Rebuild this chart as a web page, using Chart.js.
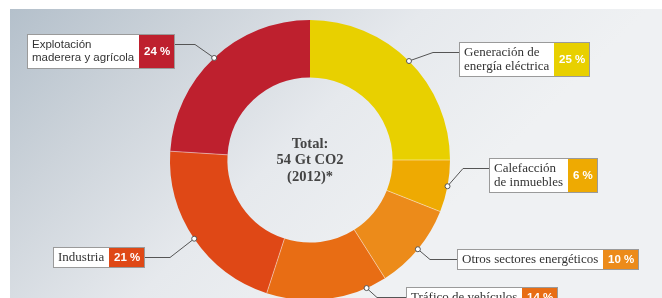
<!DOCTYPE html>
<html>
<head>
<meta charset="utf-8">
<script src="https://cdn.jsdelivr.net/npm/chart.js@4"></script>
<style>
  html, body { margin: 0; padding: 0; background: #fff; }
  #wrap { width: 662px; height: 298px; overflow: hidden; position: relative; }
  canvas { display: block; }
</style>
</head>
<body>
<div id="wrap"><canvas id="co2Chart" width="662" height="320"></canvas></div>
<script>
// Data
const categories = ['Generación de energía eléctrica', 'Calefacción de inmuebles', 'Otros sectores energéticos',
                    'Tráfico de vehículos', 'Industria', 'Explotación maderera y agrícola'];
const shares = [25, 6, 10, 14, 21, 24];
const labelLines = [['Generación de', 'energía eléctrica'], ['Calefacción', 'de inmuebles'], ['Otros sectores energéticos'],
                    ['Tráfico de vehículos'], ['Industria'], ['Explotación', 'maderera y agrícola']];
const totalText = ['Total:', '54 Gt CO2', '(2012)*'];

const sliceColors = ['#e8d000', '#eeaa02', '#ec8b1a', '#e86d14', '#df4816', '#be202e'];

// callout boxes: layout only
const SERIF = '"Liberation Serif", "DejaVu Serif", serif';
const SANS = '"Liberation Sans", Arial, sans-serif';
const callouts = [
    { x: 459, y: 42, side: 'right', elbow: 26, at: 0.5, font: SERIF },
    { x: 489, y: 158, side: 'right', elbow: 26, at: 0.5, font: SERIF },
    { x: 457, y: 249, side: 'right', elbow: 27, at: 0.5, font: SERIF },
    { x: 406, y: 287, side: 'right', elbow: 29, at: 0.17, font: SERIF },
    { x: 53, y: 247, side: 'left', elbow: 25, at: 0.5, font: SERIF },
    { x: 27, y: 34, side: 'left', elbow: 20, at: 0.5, font: SANS }
];

const backgroundPanel = {
    id: 'backgroundPanel',
    beforeDraw(chart) {
        const ctx = chart.ctx;
        ctx.save();
        ctx.fillStyle = '#ffffff';
        ctx.fillRect(0, 0, chart.width, chart.height);
        const g = ctx.createLinearGradient(10, 9, 330, 329);
        g.addColorStop(0, '#b4c0cb');
        g.addColorStop(0.3, '#ccd3da');
        g.addColorStop(0.65, '#e6e9ed');
        g.addColorStop(1, '#eff1f3');
        ctx.fillStyle = g;
        ctx.fillRect(10, 9, chart.width - 10, chart.height - 9);
        ctx.restore();
    }
};

const separators = {
    id: 'separators',
    afterDatasetsDraw(chart) {
        const ctx = chart.ctx;
        const arcs = chart.getDatasetMeta(0).data;
        ctx.save();
        ctx.strokeStyle = 'rgba(255,255,255,0.45)';
        ctx.lineWidth = 1;
        arcs.forEach((arc, i) => {
            if (i === 0) return;
            const a = arc.startAngle;
            ctx.beginPath();
            ctx.moveTo(arc.x + Math.cos(a) * arc.innerRadius, arc.y + Math.sin(a) * arc.innerRadius);
            ctx.lineTo(arc.x + Math.cos(a) * arc.outerRadius, arc.y + Math.sin(a) * arc.outerRadius);
            ctx.stroke();
        });
        ctx.restore();
    }
};

const centerText = {
    id: 'centerText',
    afterDraw(chart) {
        const ctx = chart.ctx;
        const arc = chart.getDatasetMeta(0).data[0];
        ctx.save();
        ctx.fillStyle = '#444444';
        ctx.font = 'bold 14.5px ' + SERIF;
        ctx.textAlign = 'center';
        ctx.textBaseline = 'middle';
        totalText.forEach((t, i) => ctx.fillText(t, arc.x, arc.y - 16 + i * 16.5));
        ctx.restore();
    }
};

const calloutLabels = {
    id: 'calloutLabels',
    afterDraw(chart) {
        const ctx = chart.ctx;
        const arcs = chart.getDatasetMeta(0).data;
        ctx.save();
        arcs.forEach((arc, i) => {
            const c = callouts[i];
            const lines = labelLines[i];
            const pct = shares[i] + ' %';

            ctx.font = '11.5px ' + (c.font === SANS ? SANS : SERIF);
            if (c.font === SERIF) ctx.font = '13px ' + SERIF;
            const textW = Math.max(...lines.map(l => ctx.measureText(l).width));
            ctx.font = 'bold 11.5px ' + SANS;
            const pctW = ctx.measureText(pct).width + 10;
            const textBoxW = Math.round(textW + 10);
            const w = textBoxW + Math.round(pctW);
            const h = lines.length > 1 ? 35 : 21;

            // leader line
            const a = arc.startAngle + c.at * (arc.endAngle - arc.startAngle);
            const dx = arc.x + Math.cos(a) * arc.outerRadius;
            const dy = arc.y + Math.sin(a) * arc.outerRadius;
            const ly = c.y + 10.5;
            const edgeX = c.side === 'right' ? c.x : c.x + w;
            const elbowX = c.side === 'right' ? edgeX - c.elbow : edgeX + c.elbow;
            ctx.strokeStyle = '#555555';
            ctx.lineWidth = 1;
            ctx.beginPath();
            ctx.moveTo(dx, dy);
            ctx.lineTo(elbowX, ly);
            ctx.lineTo(edgeX, ly);
            ctx.stroke();
            ctx.beginPath();
            ctx.arc(dx, dy, 2.5, 0, Math.PI * 2);
            ctx.fillStyle = '#ffffff';
            ctx.fill();
            ctx.stroke();

            // box
            ctx.fillStyle = '#ffffff';
            ctx.fillRect(c.x, c.y, textBoxW, h);
            ctx.fillStyle = sliceColors[i];
            ctx.fillRect(c.x + textBoxW, c.y, Math.round(pctW), h);
            ctx.strokeStyle = '#9a9a9a';
            ctx.strokeRect(c.x + 0.5, c.y + 0.5, w - 1, h - 1);

            // texts
            ctx.fillStyle = '#333333';
            ctx.textAlign = 'left';
            ctx.textBaseline = 'middle';
            if (c.font === SANS) {
                ctx.font = '11.5px ' + SANS;
                lines.forEach((l, k) => ctx.fillText(l, c.x + 5, c.y + 11 + k * 12.5));
            } else {
                ctx.font = '13px ' + SERIF;
                if (lines.length > 1) {
                    lines.forEach((l, k) => ctx.fillText(l, c.x + 5, c.y + 10.5 + k * 14.5));
                } else {
                    ctx.fillText(lines[0], c.x + 5, c.y + h / 2 + 0.5);
                }
            }
            ctx.fillStyle = '#ffffff';
            ctx.font = 'bold 11.5px ' + SANS;
            ctx.textAlign = 'center';
            ctx.fillText(pct, c.x + textBoxW + pctW / 2, c.y + h / 2 + 0.5);
        });
        ctx.restore();
    }
};

const ctx = document.getElementById('co2Chart').getContext('2d');
new Chart(ctx, {
    type: 'doughnut',
    data: {
        labels: categories,
        datasets: [{
            data: shares,
            backgroundColor: sliceColors,
            borderWidth: 0,
            hoverOffset: 0
        }]
    },
    options: {
        responsive: false,
        animation: false,
        cutout: '59%',
        layout: { padding: { left: 170, right: 212, top: 20, bottom: 20 } },
        plugins: {
            legend: { display: false },
            tooltip: { enabled: false }
        }
    },
    plugins: [backgroundPanel, separators, centerText, calloutLabels]
});
</script>
</body>
</html>
